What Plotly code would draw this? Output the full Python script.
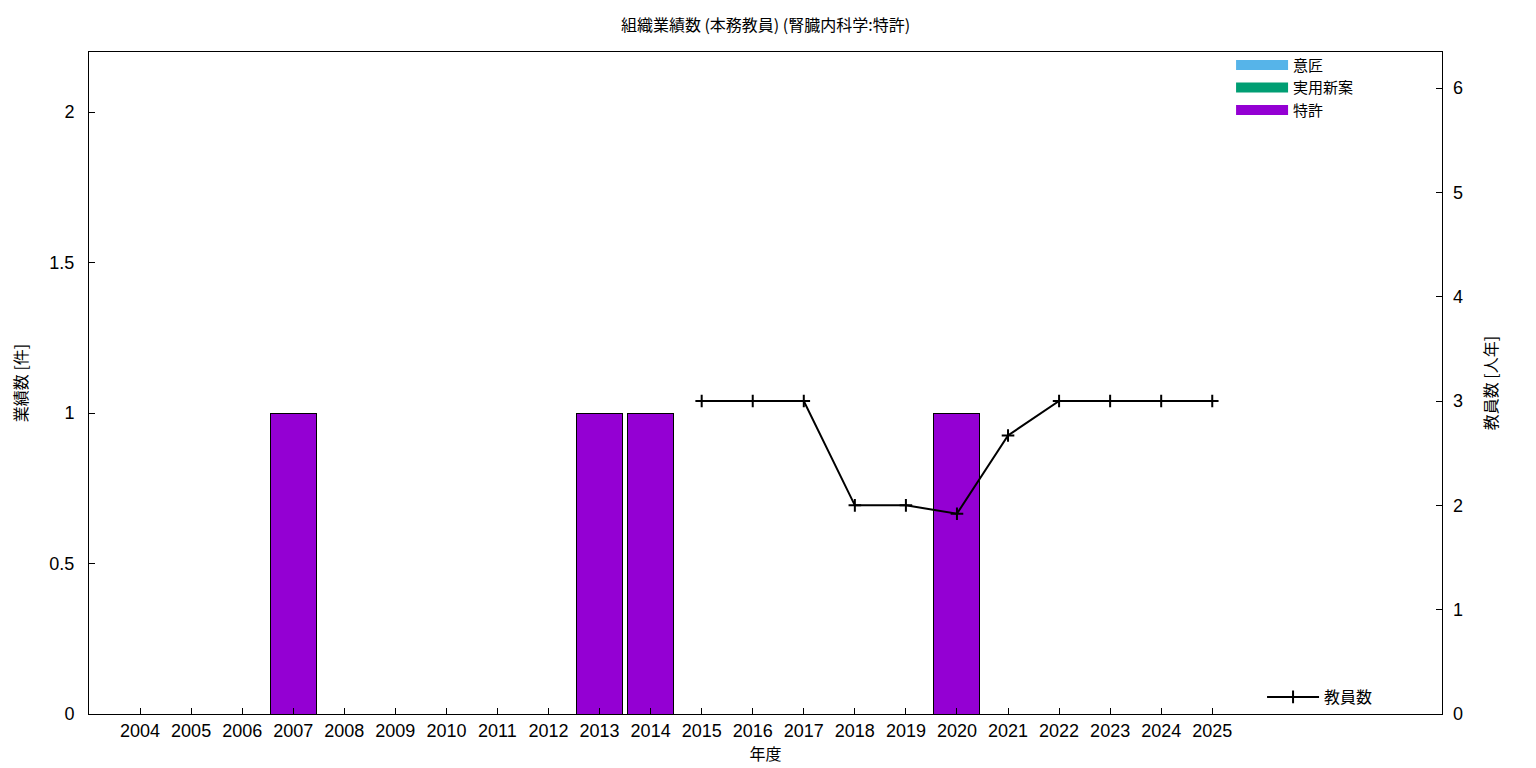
import plotly.graph_objects as go

years = list(range(2004, 2026))
design = [0] * 22
utility = [0] * 22
patent = [0, 0, 0, 1, 0, 0, 0, 0, 0, 1, 1, 0, 0, 0, 0, 0, 1, 0, 0, 0, 0, 0]
staff_years = [2015, 2016, 2017, 2018, 2019, 2020, 2021, 2022, 2023, 2024, 2025]
staff = [3, 3, 3, 2, 2, 1.92, 2.67, 3, 3, 3, 3]
left_ticks = [0, 0.5, 1, 1.5, 2]
left_labels = ["0", "0.5", "1", "1.5", "2"]
right_ticks = [0, 1, 2, 3, 4, 5, 6]

FONT = "Liberation Sans, Noto Sans CJK JP, sans-serif"
JFONT = "Noto Sans CJK JP, sans-serif"

fig = go.Figure()
for name, vals, col in [("意匠", design, "#56b4e9"), ("実用新案", utility, "#009e73"), ("特許", patent, "#9400d3")]:
    fig.add_trace(go.Bar(x=years, y=vals, name=name, width=0.9, showlegend=False,
                         marker=dict(color=col, line=dict(color="black", width=1))))
    # legend entry drawn as a wide coloured bar
    fig.add_trace(go.Scatter(x=[None], y=[None], name=name, mode="lines",
                             line=dict(color=col, width=10), legend="legend"))

fig.add_trace(go.Scatter(x=staff_years, y=staff, name="教員数", yaxis="y2", mode="lines+markers",
                         line=dict(color="black", width=2),
                         marker=dict(symbol="cross-thin", size=9, line=dict(color="black", width=2)),
                         legend="legend2"))

fig.update_layout(
    width=1536, height=768, barmode="stack",
    paper_bgcolor="white", plot_bgcolor="white",
    margin=dict(l=81, r=102, t=44, b=62, autoexpand=False),
    font=dict(family=FONT, size=18, color="black"),
    title=dict(text="組織業績数 (本務教員) (腎臓内科学:特許)", x=0.5, xref="paper", xanchor="center",
               y=0.977, yanchor="middle", font=dict(family=JFONT, size=16)),
    xaxis=dict(range=[2003, 2029.5], tickvals=years, ticktext=[str(y) for y in years],
               ticks="inside", ticklen=6, tickcolor="black", showline=True, linecolor="black", mirror=True,
               showgrid=False, zeroline=False, automargin=False,
               title=dict(text="年度", font=dict(family=JFONT, size=16), standoff=9)),
    yaxis=dict(range=[0, 2.2], tickvals=left_ticks, ticktext=left_labels, ticks="inside", ticklen=6,
               tickcolor="black", showline=True, linecolor="black", mirror=True, showgrid=False,
               zeroline=False, ticklabelstandoff=10, automargin=False,
               title=dict(text="業績数 [件]", font=dict(family=JFONT, size=16), standoff=26)),
    yaxis2=dict(range=[0, 6.345], tickvals=right_ticks, overlaying="y", side="right", ticks="inside",
                ticklen=6, tickcolor="black", showline=False, showgrid=False, zeroline=False,
                ticklabelstandoff=10, automargin=False,
                title=dict(text="教員数 [人年]", font=dict(family=JFONT, size=16), standoff=23)),
    legend=dict(x=0.8441, y=1.005, xanchor="left", yanchor="top", bgcolor="rgba(0,0,0,0)",
                font=dict(family=JFONT, size=15), traceorder="normal", tracegroupgap=0,
                itemwidth=52),
    legend2=dict(x=0.867, y=0.0, xanchor="left", yanchor="bottom", bgcolor="rgba(0,0,0,0)",
                 font=dict(family=JFONT, size=16), itemwidth=52),
)

fig.write_html("out.html")
